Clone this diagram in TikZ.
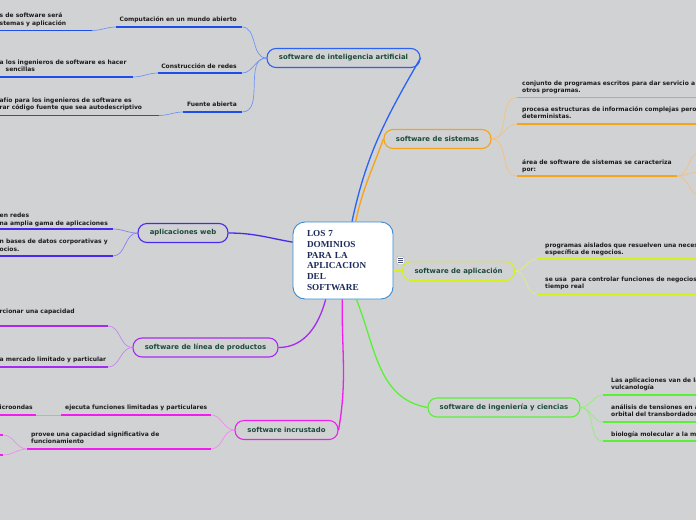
\documentclass[tikz,border=0pt]{standalone}
\usepackage{fontspec}
\setmainfont{DejaVu Sans}
\newfontfamily\centerfont{Liberation Serif}
\definecolor{bg}{HTML}{D1D2D4}
\definecolor{txt}{HTML}{1C1C1C}
\definecolor{lbltxt}{HTML}{1B4A3A}
\definecolor{cborder}{HTML}{3A8BD1}
\definecolor{ctext}{HTML}{1C2B5C}
\definecolor{blueM}{HTML}{2A62F5}
\definecolor{blueU}{HTML}{1F4DE8}
\definecolor{blueL}{HTML}{7095F5}
\definecolor{orM}{HTML}{F5A31A}
\definecolor{orL}{HTML}{F4C27E}
\definecolor{webM}{HTML}{4B28F0}
\definecolor{webL}{HTML}{8B80F0}
\definecolor{lpM}{HTML}{A62BF0}
\definecolor{lpL}{HTML}{C486F0}
\definecolor{magM}{HTML}{F21CF0}
\definecolor{magL}{HTML}{F08CEE}
\definecolor{appM}{HTML}{D6F01E}
\definecolor{appL}{HTML}{DDEE80}
\definecolor{grnM}{HTML}{5AF035}
\definecolor{grnL}{HTML}{92EE7A}
\begin{document}
\begin{tikzpicture}[x=1pt,y=-1pt,
  every node/.style={inner sep=0pt},
  lbl/.style={font=\bfseries\fontsize{6}{7.8}\selectfont, text=txt, align=left},
  lblr/.style={font=\bfseries\fontsize{6}{7.8}\selectfont, text=txt, align=right},
  branch/.style={draw=#1, line width=1.1pt, rounded corners=9pt, fill=bg,
    font=\bfseries\fontsize{6.9}{8}\selectfont, text=lbltxt, minimum height=19pt},
  ul/.style={draw=#1, line width=1.6pt},
  thinc/.style={draw=#1, line width=0.7pt},
  mainc/.style={draw=#1, line width=1.3pt},
]
\useasboundingbox (0,0) rectangle (696,520);
\fill[bg] (0,0) rectangle (696,520);
\clip (0,0) rectangle (696,520);

% ---------- central node
\node[draw=cborder, line width=0.9pt, fill=white, rounded corners=12pt,
  minimum width=100pt, minimum height=77pt, text width=72pt, align=left,
  font=\centerfont\bfseries\fontsize{9.2}{10.9}\selectfont, text=ctext] (c) at (343,260.5)
  {LOS 7\\DOMINIOS\\PARA LA\\APLICACION\\DEL\\SOFTWARE};

% ---------- branch boxes
\node[branch=blueM, minimum width=153pt] (ai) at (343.5,58) {software de inteligencia artificial};
\node[branch=orM, minimum width=107pt] (sis) at (437.5,139) {software de sistemas};
\node[branch=webM, minimum width=90pt] (web) at (183,233) {aplicaciones web};
\node[branch=lpM, minimum width=145pt] (lp) at (205.5,347.5) {software de línea de productos};
\node[branch=magM, minimum width=103pt] (inc) at (286.5,430) {software incrustado};
\node[branch=appM, minimum width=112pt] (app) at (458.5,271) {software de aplicación};
\node[branch=grnM, minimum width=152pt] (eng) at (504,407.5) {software de ingeniería y ciencias};

% ---------- main connectors
\draw[mainc=blueM] (c.77) to[out=78,in=-120] (ai.east);
\draw[mainc=orM] (c.72) to[out=78,in=-110] (sis.west);
\draw[mainc=webM] (c.160) to[out=170,in=0] (web.east);
\draw[mainc=lpM] (c.246) to[out=-105,in=0] (lp.east);
\draw[mainc=magM] (c.269) to[out=-91,in=80] (inc.east);
\draw[mainc=appM] (c.-11) -- (app.west);
\draw[mainc=grnM] (c.289) to[out=-68,in=170] (eng.west);

% note icon
\node[draw=gray!70, fill=white, rounded corners=1pt, minimum width=7pt, minimum height=8pt] (icon) at (400.5,260.5) {};
\draw[ctext!80, line width=0.7pt] ([xshift=1.6pt,yshift=-2pt]icon.north west) -- ([xshift=-1.6pt,yshift=-2pt]icon.north east)
  ([xshift=1.6pt]icon.west) -- ([xshift=-1.6pt]icon.east)
  ([xshift=1.6pt,yshift=2pt]icon.south west) -- ([xshift=-1.6pt,yshift=2pt]icon.south east);

% ---------- AI children
\coordinate (c1a) at (116,27); \coordinate (c1b) at (242,27);
\coordinate (c2a) at (158,73); \coordinate (c2b) at (242,73);
\coordinate (c3a) at (183,112); \coordinate (c3b) at (242,112);
\draw[ul=blueU] (c1a) -- (c1b); \draw[ul=blueU] (c2a) -- (c2b); \draw[ul=blueU] (c3a) -- (c3b);
\draw[thinc=blueL] (ai.west) to[out=180,in=0] (c1b);
\draw[thinc=blueL] (ai.west) to[out=180,in=0] (c2b);
\draw[thinc=blueL] (ai.west) to[out=180,in=0] (c3b);
\node[lblr, anchor=base east] (c1) at (237,21) {Computación en un mundo abierto};
\node[lblr, anchor=base east] (c2) at (237,68) {Construcción de redes};
\node[lblr, anchor=base east] (c3) at (237,106.5) {Fuente abierta};

\coordinate (g1a) at (-5,30.5); \coordinate (g1b) at (92,30.5);
\coordinate (g2a) at (-5,77); \coordinate (g2b) at (133,77);
\coordinate (g3a) at (-5,115.5); \coordinate (g3b) at (159,115.5);
\draw[ul=blueU] (g1a) -- (g1b); \draw[ul=blueU] (g2a) -- (g2b); \draw[ul=blueU] (g3a) -- (g3b);
\draw[thinc=blueL] (c1a) to[out=180,in=0] (g1b);
\draw[thinc=blueL] (c2a) to[out=180,in=0] (g2b);
\draw[thinc=blueL] (c3a) to[out=180,in=0] (g3b);
\node[lbl, anchor=base west] (g1) at (-0.5,25.3) {s de software será\\stemas y aplicación};
\node[lbl, anchor=base west] (g2) at (-0.5,71.8) {a los ingenieros de software es hacer\\\hspace*{6pt}sencillas};
\node[lbl, anchor=base west] (g3) at (-0.5,109.8) {afío para los ingenieros de software es\\rar código fuente que sea autodescriptivo};

% ---------- sistemas children
\coordinate (s1a) at (517,97.5); \coordinate (s1b) at (700,97.5);
\coordinate (s2a) at (517,124); \coordinate (s2b) at (700,124);
\coordinate (s3a) at (517,176); \coordinate (s3b) at (677,176);
\draw[ul=orM] (s1a) -- (s1b); \draw[ul=orM] (s2a) -- (s2b); \draw[ul=orM] (s3a) -- (s3b);
\draw[thinc=orL] (sis.east) to[out=0,in=180] (s1a);
\draw[thinc=orL] (sis.east) to[out=0,in=180] (s2a);
\draw[thinc=orL] (sis.east) to[out=0,in=180] (s3a);
\node[lbl, anchor=base west] (s1) at (522,92.8) {conjunto de programas escritos para dar servicio a\\otros programas.};
\node[lbl, anchor=base west] (s2) at (522,118.8) {procesa estructuras de información complejas pero\\deterministas.};
\node[lbl, anchor=base west] (s3) at (522,171.8) {área de software de sistemas se caracteriza\\por:};
\coordinate (s3x) at (700,153); \coordinate (s3y) at (700,172); \coordinate (s3z) at (700,195);
\draw[thinc=orL] (s3b) to[out=0,in=180] (s3x);
\draw[thinc=orL] (s3b) to[out=0,in=180] (s3y);
\draw[thinc=orL] (s3b) to[out=0,in=180] (s3z);

% ---------- web children
\coordinate (w1a) at (-5,229); \coordinate (w1b) at (113,229);
\coordinate (w2a) at (-5,256); \coordinate (w2b) at (113,256);
\draw[ul=webM] (w1a) -- (w1b); \draw[ul=webM] (w2a) -- (w2b);
\draw[thinc=webL] (web.west) to[out=180,in=0] (w1b);
\draw[thinc=webL] (web.west) to[out=180,in=0] (w2b);
\node[lbl, anchor=base west] (w1) at (-0.5,225.3) {en redes\\na amplia gama de aplicaciones};
\node[lbl, anchor=base west] (w2) at (-0.5,251.3) {n bases de datos corporativas y\\ocios.};

% ---------- linea children
\coordinate (l1a) at (-5,326); \coordinate (l1b) at (108,326);
\coordinate (l2a) at (-5,367); \coordinate (l2b) at (108,367);
\draw[ul=lpM] (l1a) -- (l1b); \draw[ul=lpM] (l2a) -- (l2b);
\draw[thinc=lpL] (lp.west) to[out=180,in=0] (l1b);
\draw[thinc=lpL] (lp.west) to[out=180,in=0] (l2b);
\node[lbl, anchor=base west] (l1) at (-0.5,313.5) {rcionar una capacidad};
\node[lbl, anchor=base west] (l2) at (-0.5,361.5) {a mercado limitado y particular};

% ---------- incrustado children
\coordinate (i1a) at (61,415); \coordinate (i1b) at (211,415);
\coordinate (i2a) at (27,449); \coordinate (i2b) at (211,449);
\draw[ul=magM] (i1a) -- (i1b); \draw[ul=magM] (i2a) -- (i2b);
\draw[thinc=magL] (inc.west) to[out=180,in=0] (i1b);
\draw[thinc=magL] (inc.west) to[out=180,in=0] (i2b);
\node[lbl, anchor=base west] (i1) at (65,409) {ejecuta funciones limitadas y particulares};
\node[lbl, anchor=base west] (i2) at (31,443.8) {provee una capacidad significativa de\\funcionamiento};
\coordinate (m1a) at (-5,415); \coordinate (m1b) at (36,415);
\draw[ul=magM] (m1a) -- (m1b);
\draw[thinc=magL] (i1a) -- (m1b);
\node[lbl, anchor=base west] (m1) at (-0.5,409) {icroondas};
\coordinate (n1a) at (-5,435); \coordinate (n1b) at (3,435);
\coordinate (n2a) at (-5,455); \coordinate (n2b) at (3,455);
\draw[ul=magM] (n1a) -- (n1b); \draw[ul=magM] (n2a) -- (n2b);
\draw[thinc=magL] (i2a) to[out=180,in=0] (n1b);
\draw[thinc=magL] (i2a) to[out=180,in=0] (n2b);

% ---------- aplicacion children
\coordinate (a1a) at (537,259); \coordinate (a1b) at (700,259);
\coordinate (a2a) at (537,294); \coordinate (a2b) at (700,294);
\draw[ul=appM] (a1a) -- (a1b); \draw[ul=appM] (a2a) -- (a2b);
\draw[thinc=appL] (app.east) to[out=0,in=180] (a1a);
\draw[thinc=appL] (app.east) to[out=0,in=180] (a2a);
\node[lbl, anchor=base west] (a1) at (545,254.8) {programas aislados que resuelven una necesidad\\específica de negocios.};
\node[lbl, anchor=base west] (a2) at (545,288.8) {se usa\ \ para controlar funciones de negocios en\\tiempo real};

% ---------- ingenieria children
\coordinate (e1a) at (603,395); \coordinate (e1b) at (700,395);
\coordinate (e2a) at (603,422); \coordinate (e2b) at (700,422);
\coordinate (e3a) at (603,441); \coordinate (e3b) at (700,441);
\draw[ul=grnM] (e1a) -- (e1b); \draw[ul=grnM] (e2a) -- (e2b); \draw[ul=grnM] (e3a) -- (e3b);
\draw[thinc=grnL] (eng.east) to[out=0,in=180] (e1a);
\draw[thinc=grnL] (eng.east) to[out=0,in=180] (e2a);
\draw[thinc=grnL] (eng.east) to[out=0,in=180] (e3a);
\node[lbl, anchor=base west] (e1) at (611,389.8) {Las aplicaciones van de la\\vulcanología};
\node[lbl, anchor=base west] (e2) at (611,416.8) {análisis de tensiones en a\\orbital del transbordador};
\node[lbl, anchor=base west] (e3) at (611,436) {biología molecular a la m};
\end{tikzpicture}
\end{document}
